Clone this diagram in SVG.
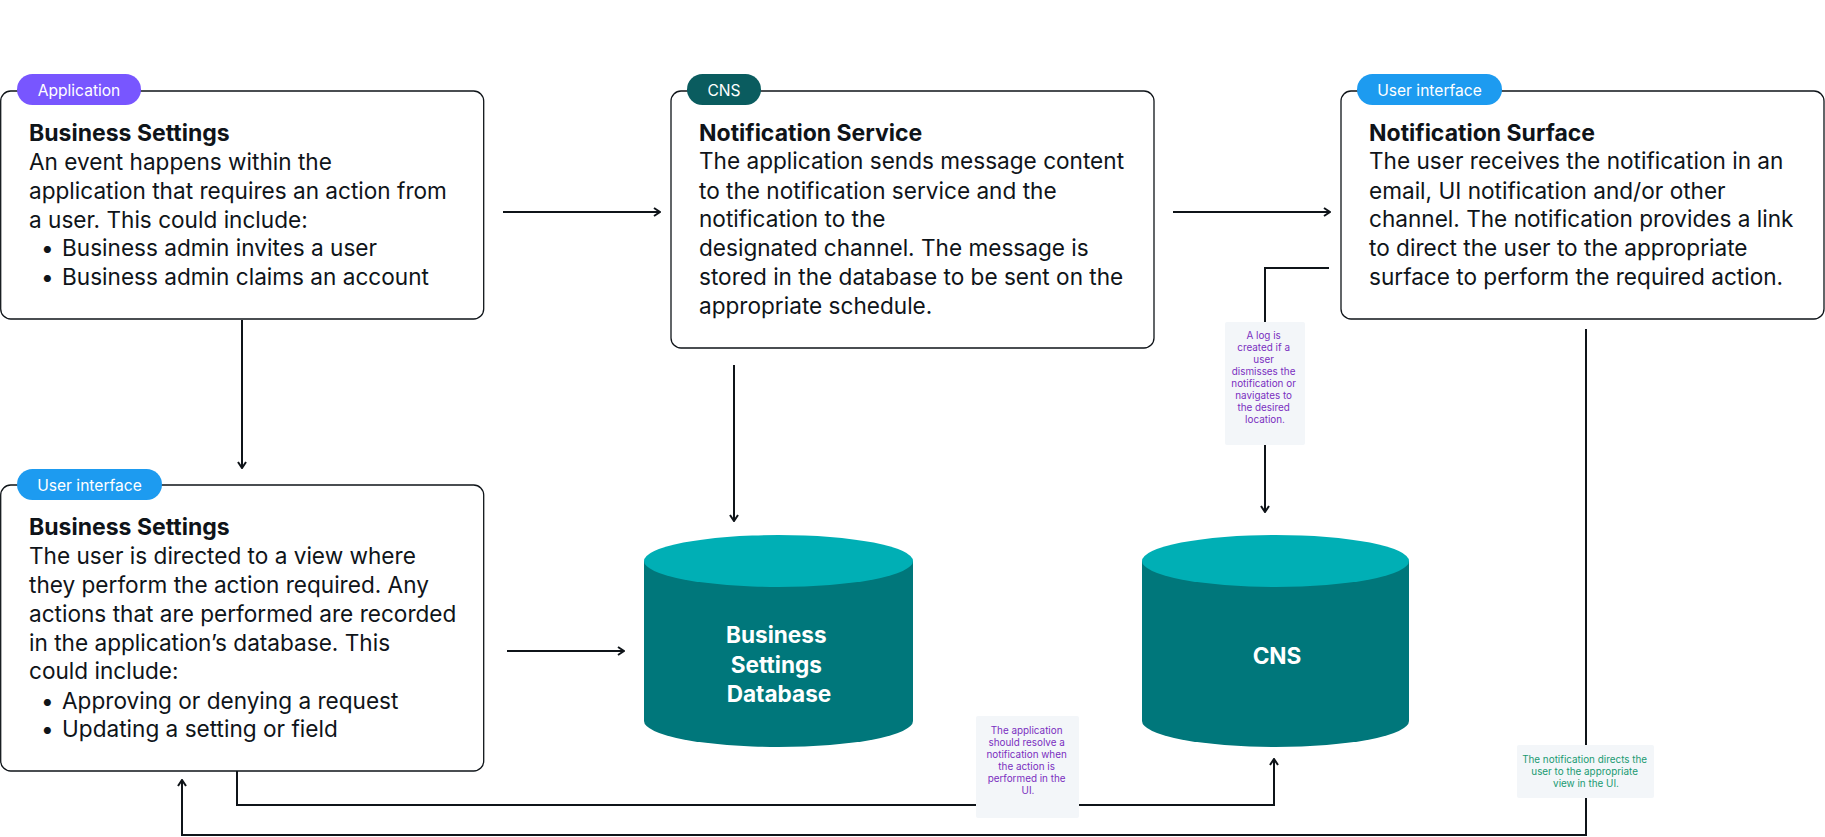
<svg xmlns="http://www.w3.org/2000/svg" width="1825" height="837" viewBox="0 0 1825 837">
<defs>
<marker id="arr" viewBox="0 0 10 10" refX="9" refY="5" markerWidth="10" markerHeight="10" markerUnits="userSpaceOnUse" orient="auto">
<path d="M3,1 L9,5 L3,9" fill="none" stroke="#0F1419" stroke-width="2"/>
</marker>
<style>
.box{fill:#fff;stroke:#0F1419;stroke-width:1.3}
.badge-t{font-family:Inter,"Liberation Sans",sans-serif;font-size:15.6px;fill:#fff;text-anchor:middle}
.title{font-family:Inter,"Liberation Sans",sans-serif;font-size:23px;font-weight:700;fill:#0F1419}
.body{font-family:Inter,"Liberation Sans",sans-serif;font-size:22.6px;fill:#0F1419}
.cap{fill:#00AFB5}
.cyl{fill:#00777B}
.dbt{font-family:Inter,"Liberation Sans",sans-serif;font-size:22.6px;font-weight:700;fill:#fff;text-anchor:middle}
.conn{fill:none;stroke:#0F1419;stroke-width:2}
.note{fill:#F3F6F9}
.nt{font-family:Inter,"Liberation Sans",sans-serif;font-size:9.9px;text-anchor:middle}
</style>
</defs>
<rect width="1825" height="837" fill="#fff"/>

<g id="connectors">
<line class="conn" x1="503" y1="212" x2="660" y2="212" marker-end="url(#arr)"/>
<line class="conn" x1="1173" y1="212" x2="1330" y2="212" marker-end="url(#arr)"/>
<line class="conn" x1="242" y1="320" x2="242" y2="468" marker-end="url(#arr)"/>
<line class="conn" x1="734" y1="365" x2="734" y2="521" marker-end="url(#arr)"/>
<line class="conn" x1="507" y1="651" x2="624" y2="651" marker-end="url(#arr)"/>
<polyline class="conn" points="1329,268 1265,268 1265,512" marker-end="url(#arr)"/>
<polyline class="conn" points="237,771 237,805 1274,805 1274,759" marker-end="url(#arr)"/>
<polyline class="conn" points="1586,329 1586,835 182,835 182,780" marker-end="url(#arr)"/>
</g>

<g id="note-log">
<rect class="note" x="1225" y="322" width="80" height="123" rx="2"/>
<text class="nt" fill="#7A2FC0">
<tspan x="1265" y="339">A log is</tspan>
<tspan x="1265" y="351">created if a</tspan>
<tspan x="1265" y="363">user</tspan>
<tspan x="1265" y="375">dismisses the</tspan>
<tspan x="1265" y="387">notification or</tspan>
<tspan x="1265" y="399">navigates to</tspan>
<tspan x="1265" y="411">the desired</tspan>
<tspan x="1265" y="423">location.</tspan>
</text>
</g>

<g id="note-resolve">
<rect class="note" x="976" y="716" width="103" height="102" rx="2"/>
<text class="nt" fill="#7A2FC0">
<tspan x="1028" y="734">The application</tspan>
<tspan x="1028" y="746">should resolve a</tspan>
<tspan x="1028" y="758">notification when</tspan>
<tspan x="1028" y="770">the action is</tspan>
<tspan x="1028" y="782">performed in the</tspan>
<tspan x="1028" y="794">UI.</tspan>
</text>
</g>

<g id="note-directs">
<rect class="note" x="1517" y="745" width="137" height="53" rx="2"/>
<text class="nt" fill="#1A9A72">
<tspan x="1586" y="763">The notification directs the</tspan>
<tspan x="1586" y="775">user to the appropriate</tspan>
<tspan x="1586" y="787">view in the UI.</tspan>
</text>
</g>

<g id="node-app">
<rect class="box" x="0.7" y="91" width="483" height="228" rx="10"/>
<rect x="17" y="74" width="124" height="31" rx="15.5" fill="#7856FF"/>
<text class="badge-t" x="79" y="95.5">Application</text>
<text class="title" x="29" y="141">Business Settings</text>
<text class="body">
<tspan x="29" y="170">An event happens within the</tspan>
<tspan x="29" y="199">application that requires an action from</tspan>
<tspan x="29" y="228">a user. This could include:</tspan>
<tspan x="41" y="256">•</tspan><tspan x="62" y="256">Business admin invites a user</tspan>
<tspan x="41" y="285">•</tspan><tspan x="62" y="285">Business admin claims an account</tspan>
</text>
</g>

<g id="node-cns">
<rect class="box" x="671" y="91" width="483" height="257" rx="10"/>
<rect x="687" y="74" width="74" height="31" rx="15.5" fill="#0A5C5F"/>
<text class="badge-t" x="724" y="95.5">CNS</text>
<text class="title" x="699" y="141">Notification Service</text>
<text class="body">
<tspan x="699" y="169">The application sends message content</tspan>
<tspan x="699" y="199">to the notification service and the</tspan>
<tspan x="699" y="227">notification to the</tspan>
<tspan x="699" y="256">designated channel. The message is</tspan>
<tspan x="699" y="285">stored in the database to be sent on the</tspan>
<tspan x="699" y="314">appropriate schedule.</tspan>
</text>
</g>

<g id="node-surface">
<rect class="box" x="1341" y="91" width="483" height="228" rx="10"/>
<rect x="1357" y="74" width="145" height="31" rx="15.5" fill="#1D9BF0"/>
<text class="badge-t" x="1429.5" y="95.5">User interface</text>
<text class="title" x="1369" y="141">Notification Surface</text>
<text class="body">
<tspan x="1369" y="169">The user receives the notification in an</tspan>
<tspan x="1369" y="199">email, UI notification and/or other</tspan>
<tspan x="1369" y="227">channel. The notification provides a link</tspan>
<tspan x="1369" y="256">to direct the user to the appropriate</tspan>
<tspan x="1369" y="285">surface to perform the required action.</tspan>
</text>
</g>

<g id="node-ui">
<rect class="box" x="0.7" y="485" width="483" height="286" rx="10"/>
<rect x="17" y="469" width="145" height="31" rx="15.5" fill="#1D9BF0"/>
<text class="badge-t" x="89.5" y="490.5">User interface</text>
<text class="title" x="29" y="535">Business Settings</text>
<text class="body">
<tspan x="29" y="564">The user is directed to a view where</tspan>
<tspan x="29" y="593">they perform the action required. Any</tspan>
<tspan x="29" y="622">actions that are performed are recorded</tspan>
<tspan x="29" y="651">in the application’s database. This</tspan>
<tspan x="29" y="679">could include:</tspan>
<tspan x="41" y="709">•</tspan><tspan x="62" y="709">Approving or denying a request</tspan>
<tspan x="41" y="737">•</tspan><tspan x="62" y="737">Updating a setting or field</tspan>
</text>
</g>

<g id="node-bsdb">
<path class="cyl" d="M644,561 L644,721 A134.5,26 0 0 0 913,721 L913,561 Z"/>
<ellipse class="cap" cx="778.5" cy="561" rx="134.5" ry="26"/>
<text class="dbt">
<tspan x="779" y="643">Business</tspan>
<tspan x="779" y="673">Settings</tspan>
<tspan x="779" y="702">Database</tspan>
</text>
</g>

<g id="node-cnsdb">
<path class="cyl" d="M1142,561 L1142,721 A133.5,26 0 0 0 1409,721 L1409,561 Z"/>
<ellipse class="cap" cx="1275.5" cy="561" rx="133.5" ry="26"/>
<text class="dbt" x="1277" y="664">CNS</text>
</g>
</svg>
